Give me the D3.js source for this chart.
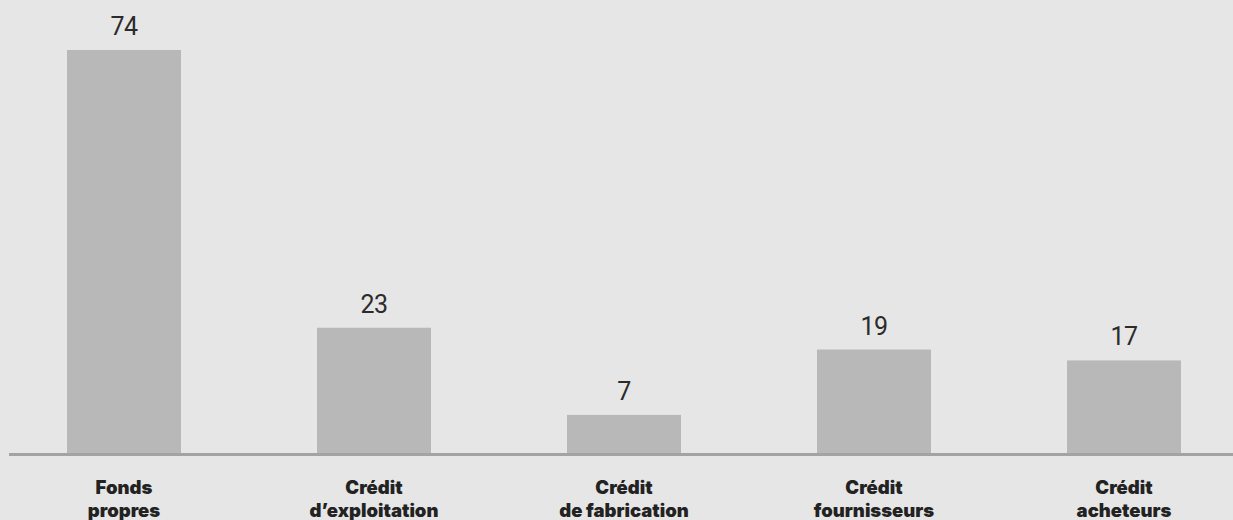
<!DOCTYPE html>
<html>
<head>
<meta charset="utf-8">
<script src="https://cdn.jsdelivr.net/npm/d3@7"></script>
<style>
  html, body { margin: 0; padding: 0; background: #e6e6e6; }
  svg { display: block; }
</style>
</head>
<body>
<script>
const categories = [
  ["Fonds", "propres"],
  ["Crédit", "d’exploitation"],
  ["Crédit", "de fabrication"],
  ["Crédit", "fournisseurs"],
  ["Crédit", "acheteurs"]
];
const values = [74, 23, 7, 19, 17];

const W = 1233, H = 520;
const baseY = 453;

const svg = d3.select("body").append("svg").attr("width", W).attr("height", H);
svg.append("rect").attr("width", W).attr("height", H).attr("fill", "#e6e6e6");

const x = d3.scaleBand()
  .domain(d3.range(categories.length))
  .range([-1, 1249])
  .paddingInner(0.544)
  .paddingOuter(0.272);

const y = d3.scaleLinear().domain([0, 74]).range([baseY, 50]);

svg.selectAll("rect.bar")
  .data(values)
  .join("rect")
  .attr("class", "bar")
  .attr("x", (d, i) => x(i))
  .attr("width", x.bandwidth())
  .attr("y", d => y(d))
  .attr("height", d => y(0) - y(d))
  .attr("fill", "#b8b8b8");

svg.append("line")
  .attr("x1", 9).attr("x2", W)
  .attr("y1", baseY + 1.5).attr("y2", baseY + 1.5)
  .attr("stroke", "#a3a3a3")
  .attr("stroke-width", 3);

svg.selectAll("text.val")
  .data(values)
  .join("text")
  .attr("class", "val")
  .attr("x", (d, i) => x(i) + x.bandwidth() / 2)
  .attr("y", d => y(d) - 15)
  .attr("text-anchor", "middle")
  .attr("font-family", "Roboto, sans-serif")
  .attr("font-weight", 400)
  .attr("font-size", 25)
  .attr("letter-spacing", -0.5)
  .attr("fill", "#2b2b2b")
  .text(d => d);

const lab = svg.selectAll("text.cat")
  .data(categories)
  .join("text")
  .attr("class", "cat")
  .attr("x", (d, i) => x(i) + x.bandwidth() / 2)
  .attr("y", 494)
  .attr("text-anchor", "middle")
  .attr("font-family", "Inter, sans-serif")
  .attr("font-weight", 900)
  .attr("font-size", 18.5)
  .attr("fill", "#222");

lab.selectAll("tspan")
  .data(d => d)
  .join("tspan")
  .attr("x", function() { return d3.select(this.parentNode).attr("x"); })
  .attr("dy", (d, j) => j === 0 ? 0 : 23)
  .text(d => d);
</script>
</body>
</html>
